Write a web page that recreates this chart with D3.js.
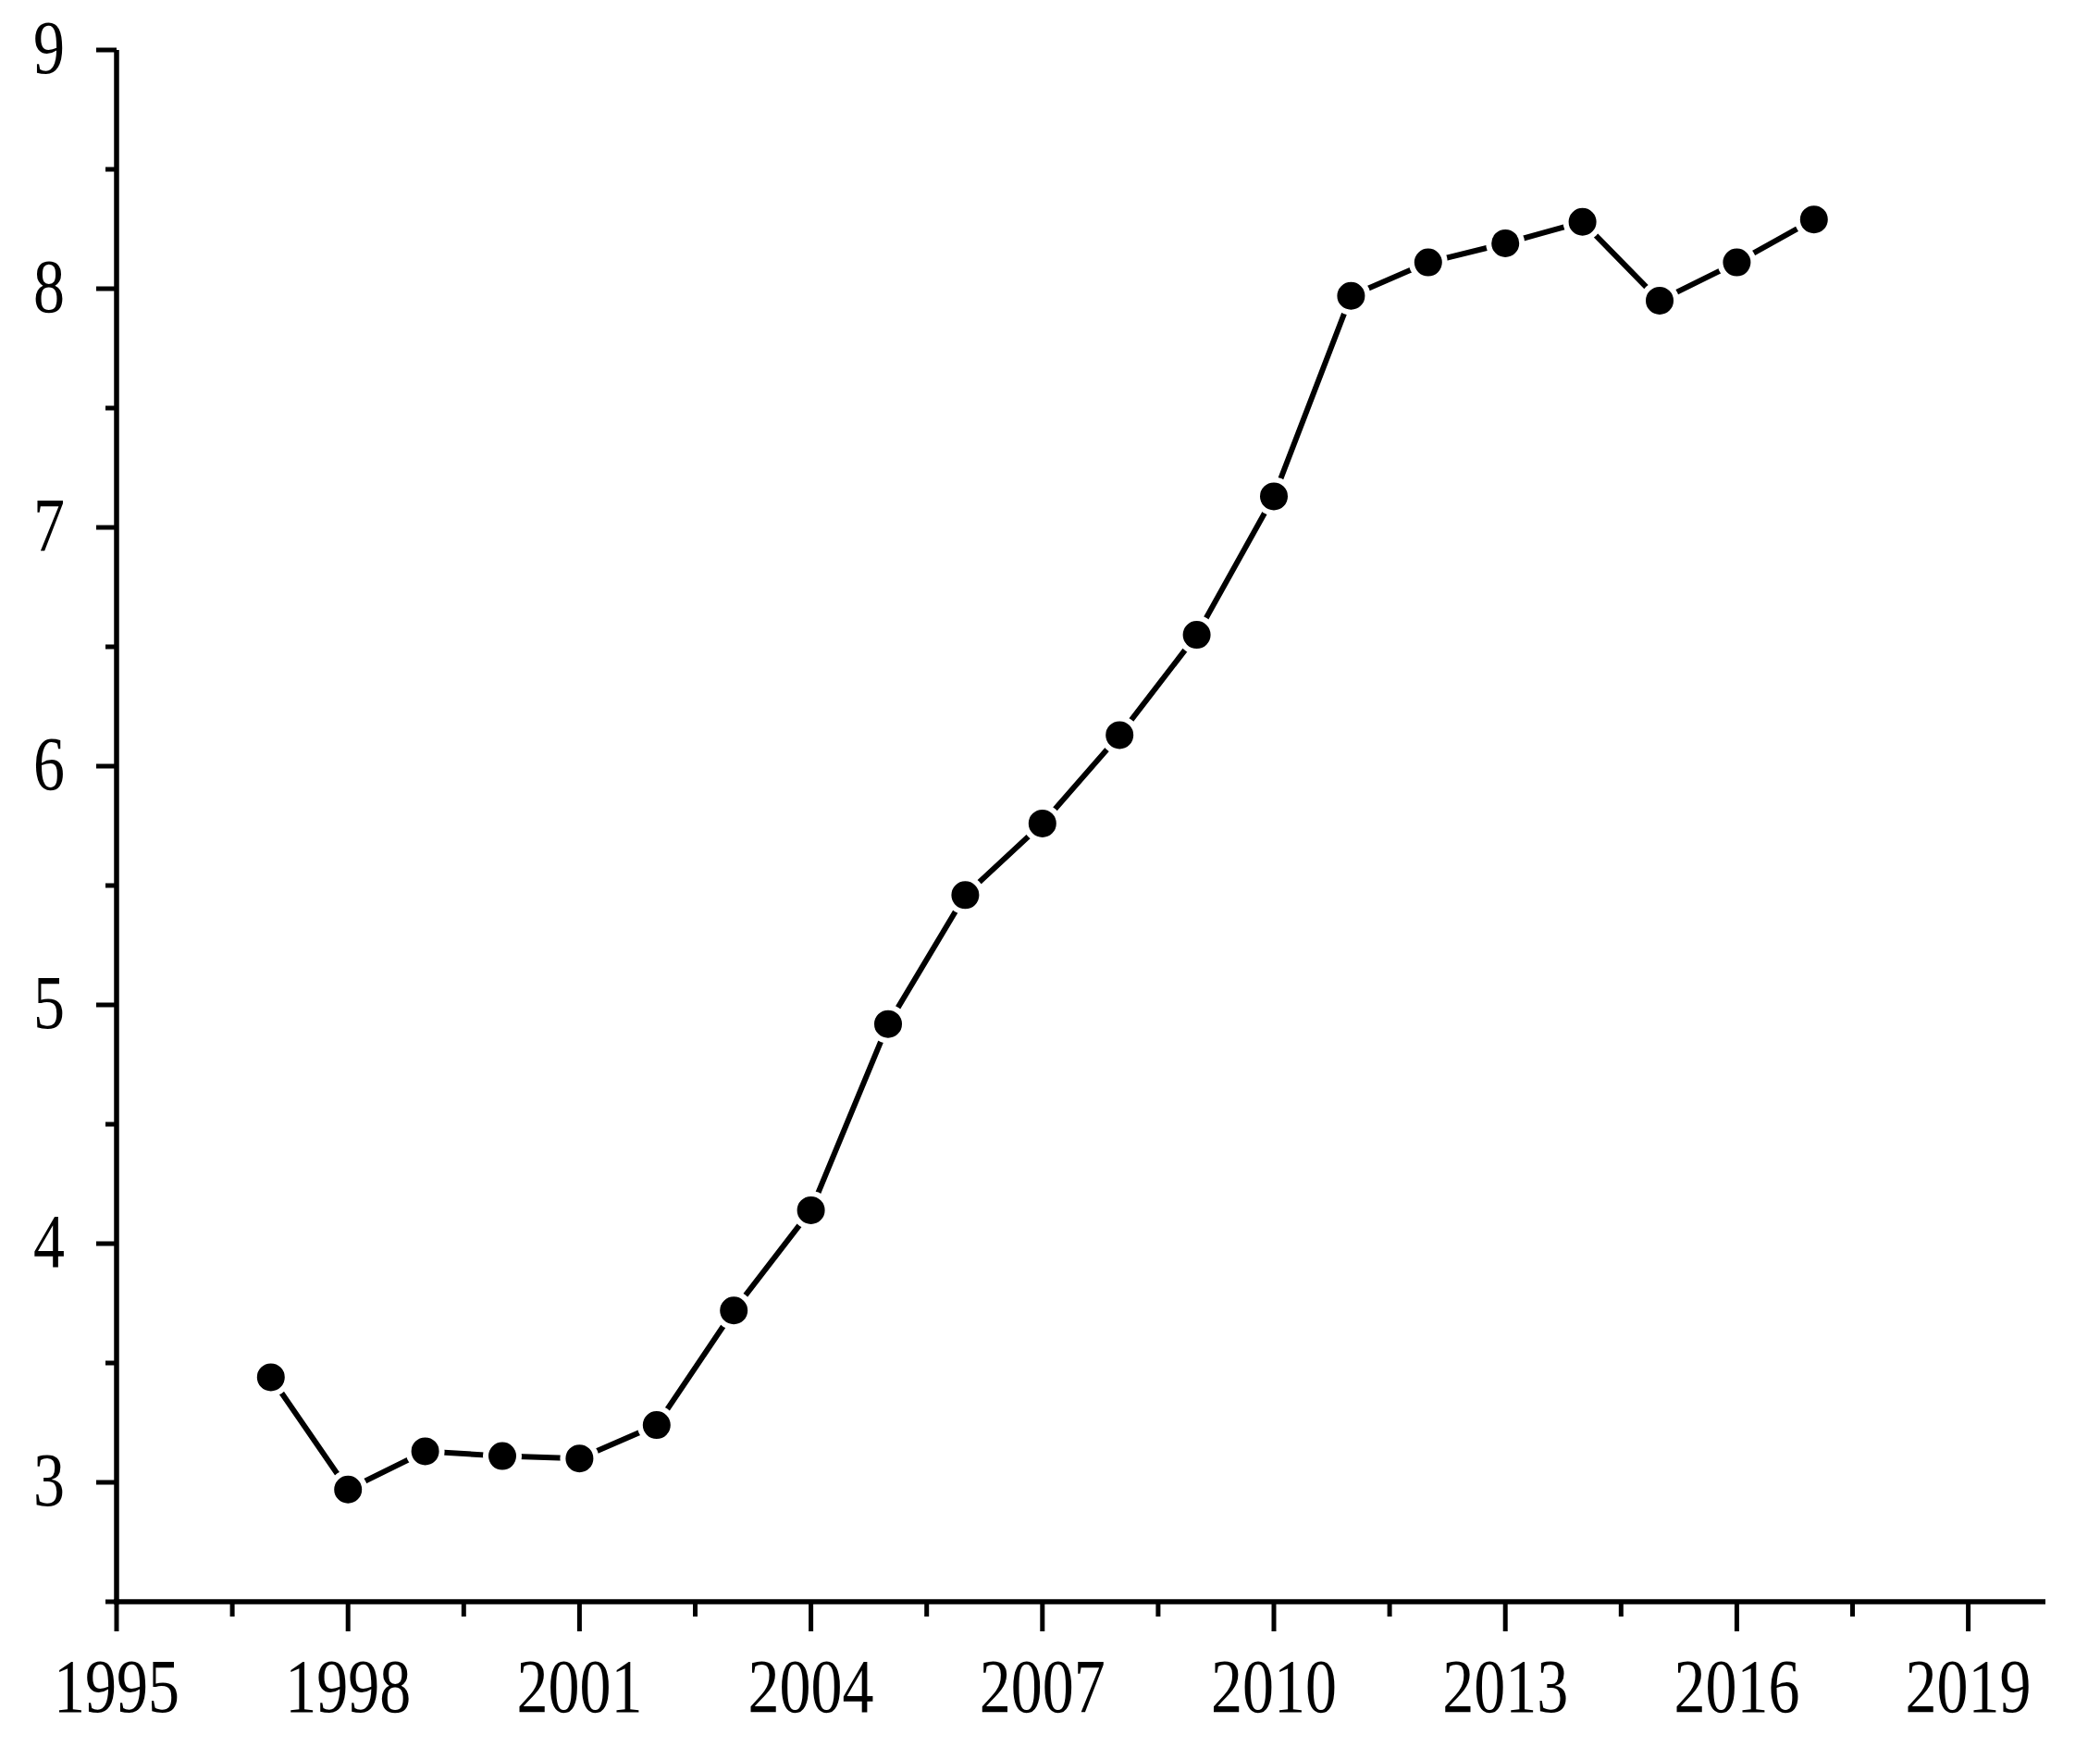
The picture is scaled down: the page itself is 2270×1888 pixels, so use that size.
<!DOCTYPE html><html><head><meta charset="utf-8">
<script src="https://cdn.jsdelivr.net/npm/d3@7"></script>
<style>body{margin:0;background:#fff}</style></head><body>
<svg id="c" width="2270" height="1888"></svg>
<script>
const years=[1997,1998,1999,2000,2001,2002,2003,2004,2005,2006,2007,2008,2009,2010,2011,2012,2013,2014,2015,2016,2017];
const values=[3.44,2.97,3.13,3.11,3.10,3.24,3.72,4.14,4.92,5.46,5.76,6.13,6.55,7.13,7.97,8.11,8.19,8.28,7.95,8.11,8.29];
const xTicks=[1995,1998,2001,2004,2007,2010,2013,2016,2019];
const yTicks=[3,4,5,6,7,8,9];
const svg=d3.select("#c");
const x=d3.scaleLinear().domain([1995,2020]).range([126,2211]);
const y=d3.scaleLinear().domain([2.5,9]).range([1731,54]);
const font="'Liberation Serif','DejaVu Serif',serif";
const ax=svg.append("g");
ax.append("line").attr("x1",126).attr("x2",126).attr("y1",y(9)).attr("y2",y(2.5)+3).attr("stroke","#000").attr("stroke-width",5.5);
ax.append("line").attr("x1",123).attr("x2",2211).attr("y1",y(2.5)).attr("y2",y(2.5)).attr("stroke","#000").attr("stroke-width",5.5);
d3.range(2.5,9.01,0.5).forEach(v=>{const major=Number.isInteger(v);
 ax.append("line").attr("x1",126).attr("x2",126-(major?22:12)).attr("y1",y(v)).attr("y2",y(v)).attr("stroke","#000").attr("stroke-width",5);});
d3.range(1995,2020.01,1.5).forEach(v=>{const major=xTicks.includes(v);
 ax.append("line").attr("x1",x(v)).attr("x2",x(v)).attr("y1",y(2.5)).attr("y2",y(2.5)+(major?32:16)).attr("stroke","#000").attr("stroke-width",5);});
yTicks.forEach(v=>ax.append("text").attr("transform",`translate(70,${y(v)+25}) scale(1,1.2)`).attr("text-anchor","end").attr("font-family",font).attr("font-size",68).text(v));
xTicks.forEach(v=>ax.append("text").attr("transform",`translate(${x(v)},1850) scale(1,1.2)`).attr("text-anchor","middle").attr("font-family",font).attr("font-size",68).text(v));
svg.append("path").datum(years.map((d,i)=>[d,values[i]])).attr("d",d3.line().x(d=>x(d[0])).y(d=>y(d[1])))
 .attr("fill","none").attr("stroke","#000").attr("stroke-width",6);
svg.selectAll("circle").data(years).join("circle").attr("cx",d=>x(d)).attr("cy",(d,i)=>y(values[i])).attr("r",18)
 .attr("fill","#000").attr("stroke","#fff").attr("stroke-width",6);
</script></body></html>
